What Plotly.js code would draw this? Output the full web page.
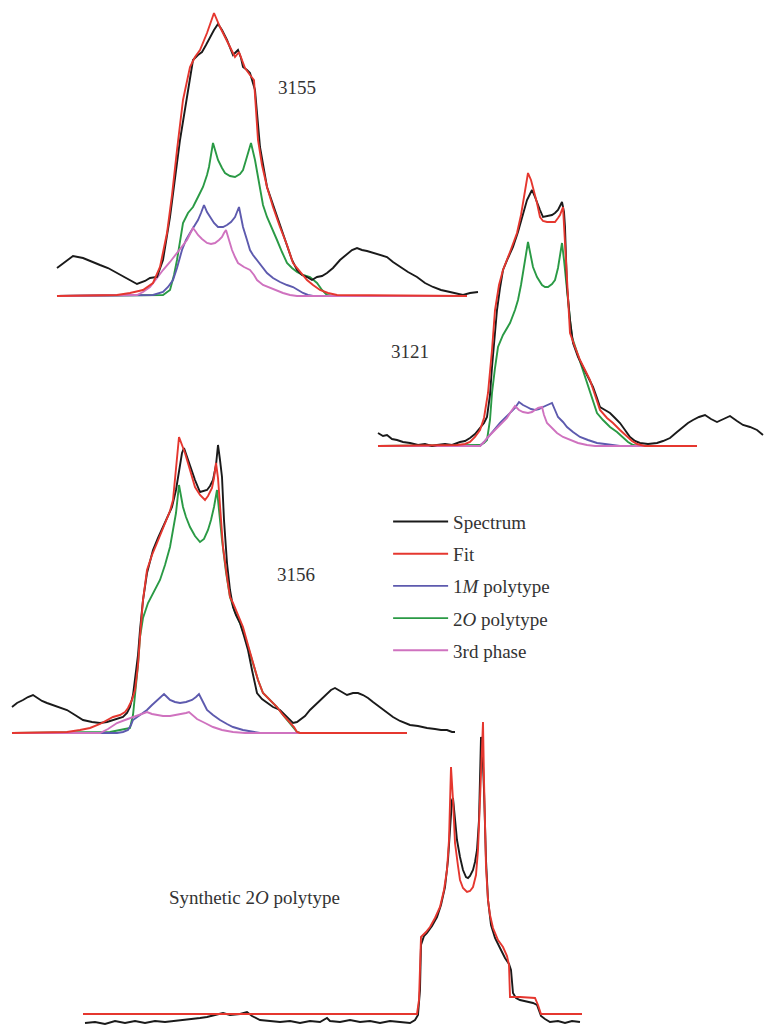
<!DOCTYPE html>
<html><head><meta charset="utf-8">
<script src="https://cdn.plot.ly/plotly-3.0.1.min.js"></script>
<style>html,body{margin:0;padding:0;background:#fff}#plot{width:764px;height:1030px}</style>
</head><body><div id="plot"></div>
<script>
// Series names and labels
const seriesNames = ["Spectrum", "Fit", "1<i>M</i> polytype", "2<i>O</i> polytype", "3rd phase"];
const sampleLabels = ["3155", "3121", "3156", "Synthetic 2<i>O</i> polytype"];

// ---- Sample 3155: [channel, intensity] ----
const s3155_spectrum = [[57,28],[65,34],[73,40],[83,38],[92,34],[100,31],[108,28],[117,23],[127,18],[137,12],[145,15],[150,18],[157,19],[163,36],[170,79],[175,116],[180,156],[187,199],[193,236],[198,241],[202,244],[206,251],[210,259],[214,266],[218,272],[222,266],[227,256],[233,241],[236,244],[238,246],[241,238],[243,229],[247,226],[250,223],[255,206],[258,176],[260,149],[267,109],[272,94],[277,79],[282,64],[287,49],[292,36],[297,26],[302,21],[307,19],[312,16],[317,19],[322,20],[327,23],[333,28],[340,36],[347,42],[352,46],[357,48],[362,46],[367,45],[373,43],[380,41],[387,39],[393,34],[400,29],[408,24],[417,19],[425,13],[433,9],[441,6],[450,4],[457,2],[463,1],[470,3],[478,4]];
const s3155_fit = [[57,0],[117,1],[130,3],[143,6],[153,13],[160,29],[167,63],[172,101],[177,146],[183,196],[190,229],[195,239],[200,246],[207,263],[214,283],[220,269],[228,253],[235,239],[239,244],[245,228],[250,221],[254,216],[258,156],[262,131],[267,109],[273,89],[280,69],[287,51],[293,33],[300,24],[307,16],[313,11],[320,6],[328,3],[337,1],[467,0]];
const s3155_1M = [[57,0],[153,1],[163,4],[168,9],[173,16],[177,28],[182,46],[186,56],[190,63],[194,69],[198,76],[201,83],[204,91],[207,84],[210,79],[214,73],[218,69],[223,69],[227,71],[231,74],[235,79],[237,84],[239,89],[241,79],[243,69],[247,56],[250,46],[253,41],[257,36],[262,29],[267,23],[273,18],[280,14],[287,11],[293,9],[298,6],[303,3],[308,1],[313,0],[467,0]];
const s3155_2O = [[57,0],[163,1],[170,6],[174,21],[177,36],[183,73],[188,83],[193,89],[198,99],[203,109],[207,121],[209,129],[213,153],[218,136],[222,128],[225,123],[230,120],[235,119],[240,122],[243,126],[246,136],[248,143],[251,153],[255,136],[260,106],[263,91],[267,79],[272,68],[277,56],[282,44],[287,33],[292,28],[297,24],[303,21],[310,19],[317,13],[322,6],[327,1],[333,0],[460,0]];
const s3155_3rd = [[57,0],[137,1],[143,4],[150,9],[157,18],[163,26],[170,34],[177,43],[182,49],[187,56],[190,62],[193,68],[196,64],[198,61],[202,57],[207,53],[211,52],[215,53],[219,56],[222,59],[224,63],[226,66],[229,56],[232,46],[235,39],[238,33],[244,29],[250,26],[254,21],[257,16],[263,11],[270,8],[277,5],[283,3],[290,1],[297,0],[467,0]];

// ---- Sample 3121 ----
const s3121_spectrum = [[378,13],[383,10],[387,11],[392,7],[397,6],[403,4],[410,3],[418,1],[425,2],[432,0],[437,1],[445,2],[452,1],[460,4],[465,5],[470,8],[475,12],[480,18],[484,23],[487,29],[490,51],[492,79],[495,111],[497,136],[500,158],[503,176],[508,188],[513,199],[518,214],[522,229],[525,239],[527,246],[530,252],[532,256],[535,249],[537,243],[540,236],[543,229],[547,230],[552,231],[555,233],[558,236],[560,240],[562,244],[564,234],[565,219],[567,159],[570,126],[573,103],[578,89],[583,79],[588,69],[593,59],[597,48],[600,39],[605,36],[610,33],[615,28],[620,23],[625,16],[630,9],[635,5],[640,3],[648,2],[657,3],[663,5],[670,8],[677,14],[683,19],[688,23],[693,26],[699,29],[705,31],[711,27],[717,24],[723,27],[730,30],[737,25],[743,21],[750,19],[757,16],[763,11]];
const s3121_fit = [[378,0],[457,1],[465,2],[470,4],[475,9],[480,16],[484,28],[488,53],[492,96],[495,136],[499,161],[503,176],[510,194],[517,213],[521,231],[524,251],[528,273],[531,266],[533,259],[537,243],[540,229],[543,225],[547,224],[551,224],[555,224],[558,228],[560,231],[563,239],[566,186],[568,146],[570,113],[575,99],[580,86],[585,76],[590,66],[595,51],[600,36],[607,28],[613,23],[620,16],[627,9],[632,5],[637,2],[645,0],[697,0]];
const s3121_1M = [[378,0],[480,0],[484,4],[488,9],[494,16],[500,23],[505,28],[510,33],[515,38],[519,44],[523,41],[527,39],[531,37],[535,36],[539,37],[543,39],[548,41],[552,43],[555,36],[558,29],[563,24],[567,19],[573,14],[580,9],[588,6],[597,3],[605,2],[613,1],[620,0],[663,0]];
const s3121_2O = [[378,0],[480,1],[484,3],[487,6],[490,26],[492,53],[495,78],[498,99],[503,111],[510,123],[515,136],[518,146],[521,161],[524,179],[526,193],[528,204],[530,194],[533,179],[537,169],[542,161],[545,159],[548,159],[552,162],[555,166],[558,178],[560,191],[562,203],[564,186],[567,153],[570,126],[572,109],[577,94],[583,76],[590,54],[597,33],[603,26],[610,19],[617,14],[623,9],[628,4],[633,1],[640,0],[687,0]];
const s3121_3rd = [[378,0],[480,0],[484,4],[488,9],[495,16],[502,23],[507,28],[510,33],[513,37],[515,40],[519,36],[523,34],[528,33],[532,34],[535,36],[538,38],[542,39],[544,31],[547,23],[552,18],[557,13],[563,9],[570,6],[578,3],[587,1],[595,0],[663,0]];

// ---- Sample 3156 ----
const s3156_spectrum = [[12,26],[17,30],[23,33],[28,36],[33,38],[38,35],[42,32],[47,30],[53,28],[60,25],[67,23],[75,18],[83,13],[92,11],[100,10],[107,11],[113,13],[118,14],[123,16],[127,20],[130,26],[133,38],[135,53],[138,78],[140,103],[143,133],[147,160],[150,173],[153,183],[158,195],[163,206],[168,217],[172,226],[176,243],[180,270],[182,280],[184,285],[187,276],[190,266],[195,253],[200,241],[204,242],[207,243],[210,247],[213,253],[216,268],[218,288],[220,273],[222,256],[224,213],[227,170],[230,143],[233,126],[236,118],[240,110],[244,97],[248,83],[252,63],[257,40],[262,34],[267,30],[273,26],[280,23],[285,18],[290,13],[293,10],[297,11],[300,13],[305,17],[310,23],[315,28],[320,33],[327,40],[331,43],[335,45],[340,42],[347,38],[353,40],[358,40],[363,38],[368,35],[373,31],[377,28],[383,24],[388,20],[393,16],[400,12],[405,10],[410,8],[418,7],[427,5],[435,4],[441,3],[447,3],[452,1],[455,1]];
const s3156_fit = [[12,0],[67,1],[80,3],[90,5],[100,9],[107,13],[113,16],[120,18],[125,21],[128,25],[132,33],[135,43],[138,68],[140,96],[143,133],[147,163],[152,178],[157,190],[162,202],[167,213],[170,222],[173,233],[176,263],[179,296],[182,288],[185,280],[190,263],[195,246],[200,238],[205,233],[208,237],[212,245],[214,255],[216,270],[218,255],[220,223],[223,186],[227,156],[230,136],[233,130],[238,118],[243,106],[248,88],[253,70],[258,53],[263,40],[270,33],[277,26],[283,18],[290,11],[294,6],[297,1],[300,0],[407,0]];
const s3156_1M = [[12,0],[117,0],[123,1],[128,3],[131,8],[133,13],[140,18],[147,23],[152,28],[157,33],[161,36],[164,39],[167,36],[170,33],[175,31],[180,30],[186,31],[192,33],[196,36],[199,39],[203,31],[207,23],[213,18],[220,13],[227,9],[233,6],[243,3],[253,1],[260,0],[407,0]];
const s3156_2O = [[12,0],[110,1],[120,3],[130,5],[133,18],[135,36],[138,68],[140,96],[143,115],[148,130],[154,141],[160,153],[165,168],[170,186],[173,203],[176,220],[179,248],[181,236],[183,226],[186,216],[190,206],[195,197],[200,191],[204,194],[208,203],[211,213],[214,226],[217,243],[219,223],[222,193],[226,161],[230,136],[235,121],[240,110],[246,93],[253,70],[258,53],[263,40],[270,33],[277,26],[283,18],[290,10],[294,5],[297,1],[300,0],[407,0]];
const s3156_3rd = [[12,0],[100,0],[108,4],[117,10],[125,13],[133,16],[140,19],[147,21],[152,19],[157,18],[163,17],[170,17],[176,18],[182,19],[186,20],[189,21],[193,17],[197,14],[205,10],[213,6],[222,3],[233,1],[245,0],[407,0]];

// ---- Synthetic 2O polytype ----
const synth_spectrum = [[85,-9],[95,-8],[105,-10],[115,-7],[125,-9],[135,-7],[145,-9],[155,-7],[165,-8],[175,-7],[185,-6],[190,-5],[200,-4],[207,-3],[215,-1],[223,1],[230,-1],[240,0],[247,2],[252,-2],[260,-6],[270,-7],[280,-8],[290,-7],[300,-9],[310,-7],[320,-8],[327,-4],[330,-7],[340,-8],[350,-6],[360,-8],[370,-7],[380,-9],[390,-7],[400,-8],[410,-9],[415,-6],[418,-1],[420,24],[421,69],[424,78],[427,81],[432,88],[437,97],[441,109],[445,127],[448,154],[450,184],[452,214],[453,216],[455,194],[457,174],[460,157],[463,144],[466,137],[468,136],[470,138],[473,144],[475,152],[477,164],[479,194],[481,277],[482,274],[484,224],[486,154],[488,114],[491,89],[495,76],[500,66],[505,56],[509,50],[511,44],[513,21],[516,16],[520,14],[527,12],[533,11],[537,9],[539,4],[541,-2],[545,-5],[550,-8],[558,-7],[565,-9],[572,-7],[580,-8]];
const synth_fit = [[83,0],[417,0],[419,14],[421,77],[426,82],[430,87],[435,96],[440,107],[444,124],[447,144],[449,174],[451,247],[453,214],[455,171],[458,148],[460,134],[463,126],[467,122],[470,123],[473,127],[476,139],[478,164],[480,214],[483,292],[484,234],[486,147],[488,114],[490,99],[493,86],[498,74],[503,67],[507,58],[509,49],[510,17],[520,17],[535,16],[538,9],[541,0],[582,0]];

const colors = {spec: "#1a1a1a", fit: "#e5372f", m1: "#5d5aae", o2: "#2a9a45", ph3: "#cf72bf"};

// Panel layout boxes (pixels in a 764x1030 page) and baselines
const W = 764, H = 1030;
const panels = [
  {left: 50, right: 490, top: 5, bottom: 300, base: 296,
   series: [s3155_spectrum, s3155_fit, s3155_1M, s3155_2O, s3155_3rd]},
  {left: 370, right: 764, top: 165, bottom: 450, base: 446,
   series: [s3121_spectrum, s3121_fit, s3121_1M, s3121_2O, s3121_3rd]},
  {left: 5, right: 465, top: 430, bottom: 737, base: 733,
   series: [s3156_spectrum, s3156_fit, s3156_1M, s3156_2O, s3156_3rd]},
  {left: 80, right: 584, top: 712, bottom: 1028, base: 1014,
   series: [synth_spectrum, synth_fit]}
];
const cols = [colors.spec, colors.fit, colors.m1, colors.o2, colors.ph3];
const order = [3, 2, 4, 0, 1];

const traces = [];
const layout = {
  width: W, height: H, margin: {l: 0, r: 0, t: 0, b: 0},
  paper_bgcolor: "#fff", plot_bgcolor: "rgba(0,0,0,0)",
  font: {family: "Liberation Serif", size: 19, color: "#333"},
  showlegend: true,
  legend: {x: 0.508, y: 0.512, xanchor: "left", yanchor: "top",
           bgcolor: "rgba(0,0,0,0)", tracegroupgap: 4.5, itemwidth: 55,
           font: {family: "Liberation Serif", size: 19, color: "#333"}},
  annotations: [], shapes: []
};

panels.forEach((p, i) => {
  const xa = i === 0 ? "x" : "x" + (i + 1);
  const ya = i === 0 ? "y" : "y" + (i + 1);
  const xk = i === 0 ? "xaxis" : "xaxis" + (i + 1);
  const yk = i === 0 ? "yaxis" : "yaxis" + (i + 1);
  layout[xk] = {domain: [p.left / W, p.right / W], range: [p.left, p.right], visible: false, fixedrange: true, anchor: ya};
  layout[yk] = {domain: [1 - p.bottom / H, 1 - p.top / H], range: [p.base - p.bottom, p.base - p.top], visible: false, fixedrange: true, anchor: xa};
  order.forEach(k => {
    const s = p.series[k];
    if (!s) return;
    traces.push({
      type: "scatter", mode: "lines", xaxis: xa, yaxis: ya,
      x: s.map(d => d[0]), y: s.map(d => d[1]),
      line: {color: cols[k], width: 1.9, shape: "linear"},
      name: seriesNames[k], legendgroup: "g" + k, legendrank: k + 1,
      showlegend: i === 0, hoverinfo: "skip"
    });
  });
});

const labelPos = [[297, 87], [410, 351], [296, 574], [255, 897]];
sampleLabels.forEach((t, i) => {
  layout.annotations.push({text: t, xref: "paper", yref: "paper",
    x: labelPos[i][0] / W, y: 1 - labelPos[i][1] / H, xanchor: "center", yanchor: "middle",
    showarrow: false, font: {family: "Liberation Serif", size: 19, color: "#333"}});
});

Plotly.newPlot("plot", traces, layout, {staticPlot: true, displayModeBar: false});
</script></body></html>
